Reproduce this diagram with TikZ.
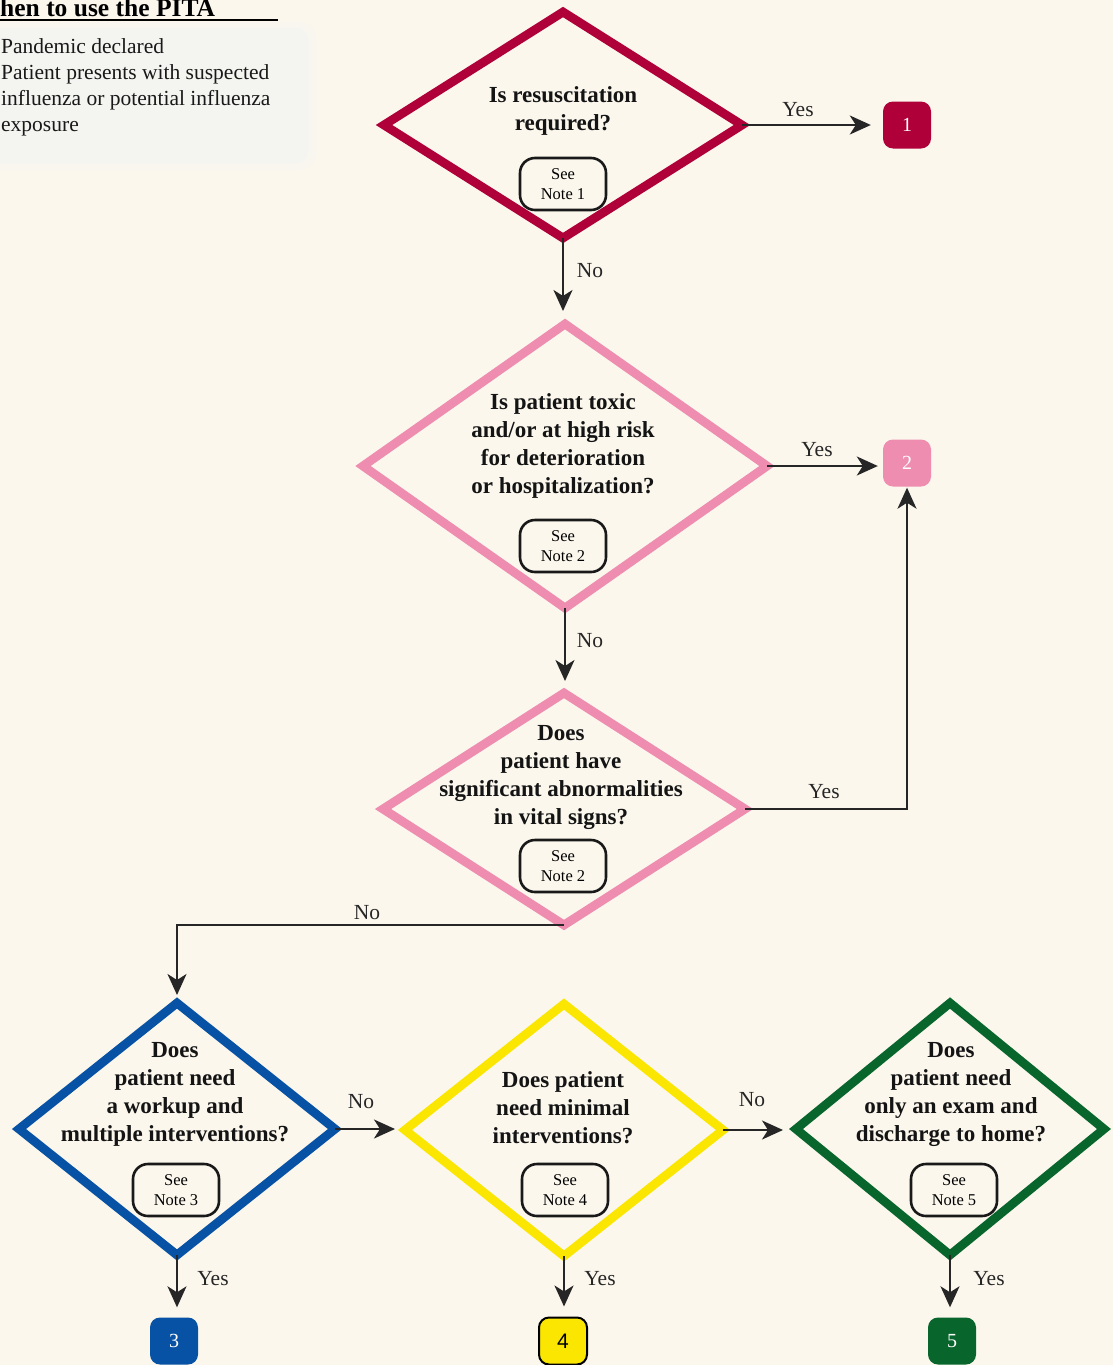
\documentclass[tikz,border=0pt]{standalone}
\usepackage{fontspec}
\setmainfont{Liberation Serif}
\setsansfont{Liberation Sans}
\usetikzlibrary{shapes.geometric,arrows.meta,calc}
\definecolor{bg}{RGB}{251,247,237}
\definecolor{boxbg}{RGB}{244,244,241}
\definecolor{boxbgb}{RGB}{248,246,239}
\definecolor{cred}{RGB}{175,0,58}
\definecolor{cpink}{RGB}{238,141,176}
\definecolor{cblue}{RGB}{8,82,165}
\definecolor{cyel}{RGB}{250,230,0}
\definecolor{cgreen}{RGB}{8,102,45}
\tikzset{
  diam/.style={diamond, inner sep=0pt, outer sep=0pt, line width=8.8pt, line join=miter, fill=bg},
  qtext/.style={align=center, font=\fontsize{23}{28}\selectfont\bfseries, inner sep=0pt, text=black!92},
  notebox/.style={draw=black!90, line width=2.6pt, rounded corners=15pt, minimum width=86pt, minimum height=52pt, inner sep=0pt, align=center, fill=bg, font=\fontsize{16.5}{20}\selectfont},
  numbox/.style={rounded corners=10pt, minimum width=48pt, minimum height=47pt, inner sep=0pt, font=\fontsize{20}{24}\selectfont},
  arr/.style={line width=2pt, draw=black!85, -{Stealth[length=21pt,width=19pt,inset=6pt]}},
  lbl/.style={font=\fontsize{21.5}{24}\selectfont, inner sep=0pt, text=black!85},
  body/.style={font=\fontsize{21.5}{26}\selectfont, inner sep=0pt, anchor=base west, text=black!90},
}
\begin{document}
\begin{tikzpicture}[x=1pt,y=-1pt]
\fill[bg] (0,0) rectangle (1113,1365);
\useasboundingbox (0,0) rectangle (1113,1365);

% top-left info panel
\fill[boxbgb, rounded corners=16pt] (-20,22) rectangle (316,170);
\fill[boxbg, rounded corners=12pt] (-20,28) rectangle (308,163);
\node[font=\fontsize{25.5}{28}\selectfont\bfseries, inner sep=0pt, anchor=base west] (title) at (0,16.5) {hen to use the PITA};
\draw[line width=2pt] (0,20) -- (278,20);
\node[body] (l1) at (1,53) {Pandemic declared};
\node[body] (l2) at (1,79.5) {Patient presents with suspected};
\node[body] (l3) at (1,105.5) {influenza or potential influenza};
\node[body] (l4) at (1,131.5) {exposure};

% diamonds
\node[diam, draw=cred, minimum width=358pt, minimum height=226pt] (d1) at (563,125) {};
\node[diam, draw=cpink, minimum width=404pt, minimum height=284pt] (d2) at (565,466) {};
\node[diam, draw=cpink, minimum width=362pt, minimum height=232pt] (d3) at (564,809) {};
\node[diam, draw=cblue, minimum width=316pt, minimum height=252pt] (d4) at (177,1129) {};
\node[diam, draw=cyel, minimum width=318pt, minimum height=252pt] (d5) at (564,1130) {};
\node[diam, draw=cgreen, minimum width=308pt, minimum height=252pt] (d6) at (950,1129) {};

% questions
\node[qtext] (q1) at (563,111) {Is resuscitation\\required?};
\node[qtext] (q2) at (563,446) {Is patient toxic\\and/or at high risk\\for deterioration\\or hospitalization?};
\node[qtext] (q3) at (561,777) {Does\\patient have\\significant abnormalities\\in vital signs?};
\node[qtext] (q4) at (175,1094) {Does\\patient need\\a workup and\\multiple interventions?};
\node[qtext] (q5) at (563,1108) {Does patient\\need minimal\\interventions?};
\node[qtext] (q6) at (951,1094) {Does\\patient need\\only an exam and\\discharge to home?};

% notes
\node[notebox] (n1) at (563,184) {See\\Note 1};
\node[notebox] (n2) at (563,546) {See\\Note 2};
\node[notebox] (n3) at (563,866) {See\\Note 2};
\node[notebox] (n4) at (176,1190) {See\\Note 3};
\node[notebox] (n5) at (565,1190) {See\\Note 4};
\node[notebox] (n6) at (954,1190) {See\\Note 5};

% outcome boxes
\node[numbox, fill=cred, text=white] (b1) at (907,125) {1};
\node[numbox, fill=cpink, text=white] (b2) at (907,463) {2};
\node[numbox, fill=cblue, text=white] (b3) at (174,1341) {3};
\node[numbox, fill=cyel, draw=black, line width=2pt, text=black, font=\fontsize{21}{24}\selectfont\sffamily] (b4) at (563,1341) {4};
\node[numbox, fill=cgreen, text=white] (b5) at (952,1341) {5};

% connectors
\draw[arr, shorten >=12pt] (d1.east) -- (b1.west);
\draw[arr, shorten >=13pt] (d1.south) -- (d1.south |- d2.north);
\draw[arr, shorten >=5pt] (d2.east) -- (d2.east -| b2.west);
\draw[arr, shorten >=12pt] (d2.south) -- (d2.south |- d3.north);
\draw[arr, shorten >=1pt] (d3.east) -- (d3.east -| b2.south) -- (b2.south);
\draw[arr, shorten >=8pt] (d3.south) -| (d4.north);
\draw[arr, shorten >=10pt] (d4.east) -- (d4.east -| d5.west);
\draw[arr, shorten >=13pt] (d5.east) -- (d5.east -| d6.west);
\draw[arr, shorten >=10pt] (d4.south) -- (d4.south |- b3.north);
\draw[arr, shorten >=10pt] (d5.south) -- (d5.south |- b4.north);
\draw[arr, shorten >=10pt] (d6.south) -- (d6.south |- b5.north);

% labels
\node[lbl] (y1) at (798,110) {Yes};
\node[lbl] (y2) at (817,450) {Yes};
\node[lbl] (y3) at (824,792) {Yes};
\node[lbl] (no1) at (590,271) {No};
\node[lbl] (no2) at (590,641) {No};
\node[lbl] (no3) at (367,913) {No};
\node[lbl] (no4) at (361,1102) {No};
\node[lbl] (no5) at (752,1100) {No};
\node[lbl] (y4) at (213,1279) {Yes};
\node[lbl] (y5) at (600,1279) {Yes};
\node[lbl] (y6) at (989,1279) {Yes};
\end{tikzpicture}
\end{document}
